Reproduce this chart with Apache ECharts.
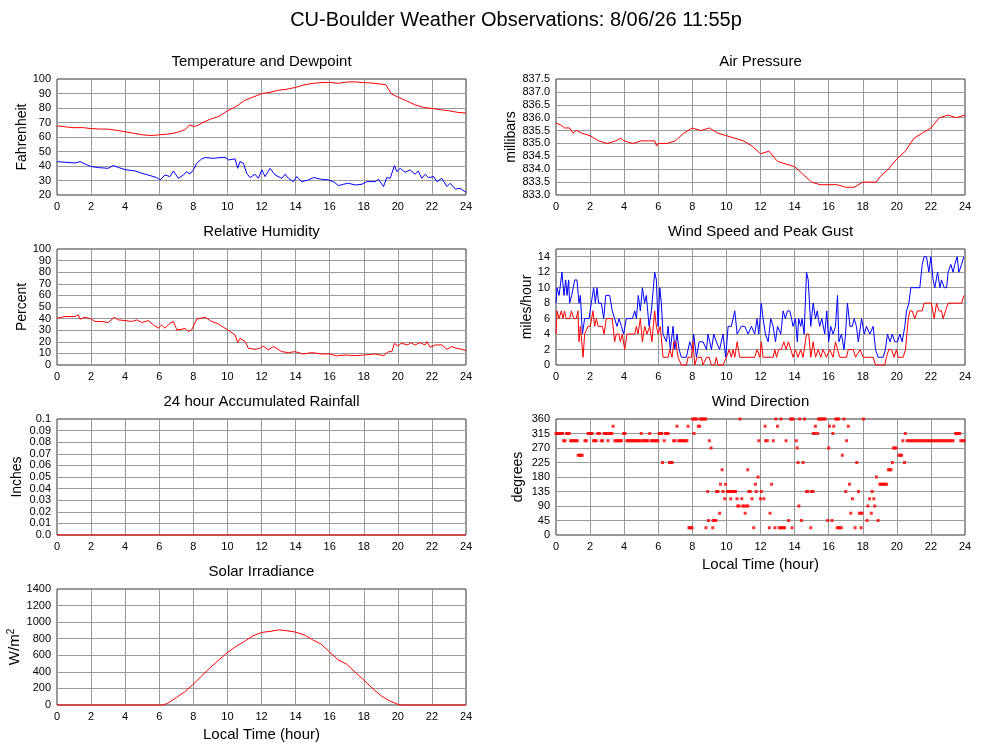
<!DOCTYPE html>
<html><head><meta charset="utf-8">
<script src="https://cdn.jsdelivr.net/npm/echarts@6/dist/echarts.min.js"></script>
<style>html,body{margin:0;padding:0;background:#fff}#c{width:1000px;height:745px}</style>
</head><body><div id="c"></div>
<script>
// ---- data: [hour, value] ----
const TEMPERATURE = [[0,67.7],[0.5,67],[1,66.4],[1.5,66.5],[2,65.8],[2.5,65.5],[3,65.4],[3.5,64.6],[4,63.6],[4.5,62.6],[5,61.5],[5.5,61],[6,61.5],[6.5,62],[7,63],[7.5,65],[7.8,68.4],[8,67.3],[8.2,67.7],[8.5,69.6],[9,72.3],[9.5,74.2],[10,78],[10.5,81],[11,85.2],[11.5,87.5],[12,89.9],[12.5,90.8],[13,92.2],[13.5,93],[14,94.2],[14.5,95.9],[15,97],[15.5,97.5],[16,97.7],[16.5,97],[17,97.9],[17.5,98],[18,97.5],[18.5,97.2],[19,96.5],[19.3,96],[19.6,90],[20,87.5],[20.5,85],[21,82.2],[21.5,80.4],[22,79.7],[22.5,78.8],[23,78.1],[23.5,77],[24,76.5]];
const DEWPOINT = [[0,43],[0.47,42.6],[1.06,42.1],[1.35,43],[1.64,41.4],[2.0,39.6],[2.43,38.9],[3.0,38.4],[3.3,40.3],[3.6,39],[4.0,37.5],[4.58,36.6],[4.97,35],[5.46,33.4],[5.85,32],[6.05,30.4],[6.34,33.8],[6.63,32.7],[6.83,36.6],[7.12,31.5],[7.42,33.8],[7.6,36.1],[7.8,34.5],[8.0,37.3],[8.2,41.9],[8.49,44.9],[8.69,45.8],[9.18,45.3],[9.57,45.8],[9.86,46],[10.06,44.2],[10.45,44.9],[10.6,38.4],[10.74,43],[10.94,41.9],[11.13,35],[11.33,32],[11.62,34.3],[11.82,31.5],[12.02,37.3],[12.21,32.7],[12.5,38.4],[12.8,33.8],[13.19,31.5],[13.39,34.3],[13.58,31.5],[13.87,29.2],[14.07,32.7],[14.36,29.2],[14.76,30.4],[15.05,32],[15.54,30.8],[15.93,30.4],[16.22,29.2],[16.52,26.5],[16.81,27.4],[17.1,28.1],[17.5,26.9],[17.89,27.4],[18.18,29.2],[18.67,29.2],[18.86,30.8],[19.16,25.8],[19.35,32],[19.55,31.5],[19.8,40.3],[19.94,36.1],[20.14,38.4],[20.43,35.7],[20.72,37.3],[21.02,34.3],[21.2,36.6],[21.4,31.5],[21.6,34.3],[21.8,32],[22.1,32.7],[22.3,29.2],[22.58,31.5],[22.88,25.8],[23.07,28.1],[23.37,24.1],[23.66,24.6],[24,21.8]];
const PRESSURE = [[0,835.8],[0.3,835.7],[0.5,835.6],[0.8,835.6],[1.0,835.4],[1.2,835.5],[1.5,835.4],[2,835.3],[2.5,835.1],[3,835.0],[3.5,835.1],[3.8,835.2],[4,835.1],[4.5,835.0],[5,835.1],[5.5,835.1],[5.8,835.1],[5.9,834.9],[6.0,835.0],[6.5,835.0],[7,835.1],[7.5,835.4],[8,835.6],[8.5,835.5],[9,835.6],[9.5,835.4],[10,835.3],[10.5,835.2],[11,835.1],[11.5,834.9],[12,834.6],[12.5,834.7],[13,834.3],[13.5,834.2],[14,834.1],[14.5,833.8],[15,833.5],[15.5,833.4],[16,833.4],[16.5,833.4],[17,833.3],[17.5,833.3],[18,833.5],[18.5,833.5],[18.8,833.5],[19,833.7],[19.5,834.0],[20,834.4],[20.5,834.7],[21,835.2],[21.5,835.4],[22,835.6],[22.5,836.0],[23,836.1],[23.5,836.0],[24,836.1]];
const HUMIDITY = [[0,40.3],[0.47,41.8],[1.06,41.8],[1.25,43.2],[1.35,39.5],[1.64,41.2],[2.0,39.8],[2.23,37.5],[2.62,37.5],[3.0,36.6],[3.37,41.2],[3.6,38.9],[4.0,38.3],[4.38,37.5],[4.68,38.9],[4.97,36.6],[5.36,38.3],[5.66,34.6],[5.95,31.7],[6.14,34.6],[6.34,31.7],[6.63,36],[6.83,37.5],[7.03,30.3],[7.32,30.8],[7.51,31.7],[7.7,28.8],[7.9,30.3],[8.2,39.5],[8.69,41.2],[9.08,37.5],[9.47,35.4],[9.86,31.7],[10.16,28.8],[10.45,25.9],[10.6,19.3],[10.74,23],[11.04,20.2],[11.23,14.4],[11.62,13.5],[11.91,14.4],[12.1,16.4],[12.4,13],[12.7,15.9],[13.19,11.5],[13.58,10.7],[13.97,11.5],[14.46,9.5],[14.95,10.7],[15.54,9.5],[16.03,9.5],[16.4,7.8],[16.9,8.6],[17.5,8.1],[18.0,8.6],[18.67,9.5],[19.16,8.1],[19.45,11.5],[19.65,11.5],[19.8,18.7],[20.0,16.4],[20.2,18.7],[20.6,17.3],[20.72,19.3],[21.02,17.3],[21.3,19.3],[21.6,17.3],[21.7,20.2],[21.9,15.3],[22.2,17.3],[22.58,17.3],[22.88,13.5],[23.17,15.9],[23.46,14.4],[23.76,13.5],[24,12.4]];
const PEAK_GUST = [[0,8],[0.06,10],[0.18,9],[0.35,12],[0.47,9],[0.57,11],[0.65,9],[0.74,11],[0.8,8],[0.92,9],[1.1,11],[1.23,11],[1.35,8],[1.43,9],[1.55,4],[1.68,6],[1.78,6],[1.94,6],[2.07,8],[2.21,10],[2.31,8],[2.41,10],[2.5,8],[2.66,8],[2.8,6],[2.92,9],[3.15,9],[3.3,7],[3.44,6],[3.58,5],[3.7,6],[3.84,5],[3.97,4],[4.13,6],[4.32,6],[4.48,6],[4.62,7],[4.72,6],[4.83,9],[4.95,7],[5.07,10],[5.2,8],[5.3,9],[5.46,5],[5.6,7],[5.69,7],[5.79,12],[5.89,11],[5.99,5],[6.09,10],[6.18,8],[6.28,4],[6.48,3],[6.58,5],[6.71,2],[6.87,5],[6.97,2],[7.1,4],[7.22,2],[7.36,1],[7.65,1],[7.85,3],[8.0,2],[8.08,4],[8.24,1],[8.4,3],[8.63,3],[8.83,2],[8.92,4],[9.12,2],[9.26,4],[9.41,3],[9.6,2],[9.8,4],[9.96,1],[10.1,5],[10.29,5],[10.49,7],[10.63,4],[10.88,5],[11.08,5],[11.27,4],[11.47,5],[11.66,4],[11.8,6],[11.9,4],[12.05,8],[12.15,6],[12.29,4],[12.45,3],[12.6,6],[12.74,5],[12.88,3],[13.0,5],[13.19,4],[13.33,7],[13.46,6],[13.58,7],[13.72,7],[13.82,6],[13.91,5],[14.05,6],[14.16,3],[14.24,6],[14.36,5],[14.44,6],[14.56,4],[14.7,12],[14.8,11],[14.95,5],[15.09,8],[15.23,6],[15.33,7],[15.47,5],[15.6,6],[15.77,4],[15.89,7],[16.0,3],[16.12,5],[16.26,4],[16.4,5],[16.52,9],[16.6,3],[16.75,4],[16.9,2],[16.99,4],[17.1,8],[17.25,5],[17.38,5],[17.5,6],[17.63,5],[17.74,3],[17.93,6],[18.09,4],[18.22,5],[18.42,4],[18.61,5],[18.75,2],[18.9,1],[19.2,1],[19.33,2],[19.45,4],[19.6,3],[19.73,4],[19.88,3],[20.04,3],[20.18,4],[20.31,3],[20.47,5],[20.57,7],[20.71,8],[20.82,10],[20.96,10],[21.06,10],[21.35,10],[21.49,13],[21.6,14],[21.74,14],[21.88,12],[22.0,14],[22.13,11],[22.23,10],[22.39,12],[22.53,10],[22.62,11],[22.78,10],[22.92,10],[23.01,12],[23.17,13],[23.3,12],[23.4,13],[23.54,14],[23.64,12],[23.8,13],[23.93,14]];
const WIND_SPEED = [[0,4],[0.06,7],[0.18,6],[0.31,7],[0.41,6],[0.5,7],[0.6,6],[0.8,6],[0.9,7],[1.04,6],[1.19,6],[1.29,7],[1.35,3],[1.43,5],[1.59,1],[1.68,4],[1.88,5],[2.01,5],[2.17,7],[2.27,5],[2.37,6],[2.47,5],[2.72,5],[2.82,4],[2.95,6],[3.3,6],[3.44,3],[3.54,4],[3.68,4],[3.78,3],[3.89,4],[4.03,2],[4.17,4],[4.62,4],[4.72,5],[4.81,4],[4.95,6],[5.07,3],[5.2,5],[5.34,4],[5.5,5],[5.63,3],[5.79,7],[5.89,5],[5.99,4],[6.12,5],[6.28,1],[6.58,1],[6.67,2],[6.81,1],[6.91,3],[7.03,3],[7.16,1],[7.36,0],[7.65,0],[7.75,1],[7.94,1],[8.04,3],[8.14,0],[8.28,1],[8.53,1],[8.63,0],[8.83,1],[8.98,1],[9.12,0],[9.31,0],[9.41,1],[9.51,0],[9.8,0],[10.0,1],[10.16,2],[10.29,1],[10.39,2],[10.49,1],[10.63,3],[10.78,1],[11.66,1],[11.8,2],[11.96,1],[12.05,3],[12.15,1],[12.74,1],[12.84,2],[12.94,1],[13.07,2],[13.22,2],[13.37,3],[13.5,2],[13.64,3],[13.78,2],[13.91,1],[14.05,2],[14.2,1],[14.36,2],[14.5,1],[14.7,4],[14.83,4],[14.95,1],[15.09,3],[15.23,1],[15.38,2],[15.54,1],[15.67,2],[15.87,1],[16.06,2],[16.26,1],[16.4,3],[16.52,2],[16.66,1],[17.05,1],[17.15,2],[17.44,2],[17.58,1],[17.84,2],[18.03,1],[18.61,1],[18.75,0],[18.9,0],[19.29,0],[19.39,1],[19.53,2],[19.69,2],[19.84,1],[19.98,2],[20.08,1],[20.37,1],[20.51,2],[20.67,6],[20.77,7],[20.9,7],[21.06,6],[21.21,7],[21.49,7],[21.6,8],[22.03,8],[22.19,6],[22.33,8],[22.47,7],[22.62,7],[22.72,6],[22.86,7],[23.01,8],[23.8,8],[23.93,9]];
const RAINFALL = [[0,0],[24,0]];
const SOLAR = [[0,0],[6.2,0],[6.5,20],[7,89],[7.5,161],[8,250],[8.5,355],[9,452],[9.5,545],[10,633],[10.5,706],[11,767],[11.5,835],[12,876],[12.5,888],[13,908],[13.5,896],[14,880],[14.5,847],[15,787],[15.5,734],[16,638],[16.5,545],[17,492],[17.5,395],[18,303],[18.5,202],[19,113],[19.5,52],[20,8],[20.2,0],[24,0]];
// wind direction: hours observed at each compass direction (degrees)
const DIR_22_5 = [7.8,7.86,7.92,7.98,8.8,9.2,11.6,12.52,12.85,13.1,13.18,13.26,13.34,13.42,13.85,14.95,16.5,16.58,16.66,16.74,17.55,17.9];
const DIR_45 = [8.95,9.22,9.3,9.38,13.65,14.4,15.95,16.2,18.25,18.9];
const DIR_67_5 = [9.6,11.1,12.56,17.3,17.8,17.88,17.96,18.5];
const DIR_90 = [10.66,10.74,10.96,11.04,11.18,11.26,14.25,18.3,18.7];
const DIR_112_5 = [9.9,10.25,10.62,10.9,11.5,12.0,12.2,17.4,18.4,18.65];
const DIR_135 = [8.9,9.42,9.5,9.8,10.05,10.13,10.21,10.29,10.37,10.45,10.53,11.32,11.4,11.75,12.05,14.7,14.78,15.0,15.08,17.0,17.75,18.55];
const DIR_157_5 = [9.65,9.95,11.7,12.65,17.22,19.0,19.08,19.16,19.24,19.32,19.4];
const DIR_180 = [11.85,18.8];
const DIR_202_5 = [9.75,11.25,19.5,19.58,19.66];
const DIR_225 = [6.25,6.66,6.74,6.82,14.2,14.5,17.65,19.74,20.45];
const DIR_247_5 = [1.3,1.38,1.46,1.54,16.8,20.12,20.2,20.28];
const DIR_270 = [9.1,14.15,16.0,19.8,19.88,19.96];
const DIR_292_5 = [0.45,0.53,0.85,0.93,1.01,1.09,1.17,1.25,1.7,1.78,2.2,2.28,2.36,2.65,2.73,3.05,3.45,3.53,3.61,3.69,3.77,3.85,4.15,4.23,4.31,4.39,4.47,4.55,4.63,4.71,4.79,4.87,4.95,5.08,5.16,5.24,5.32,5.4,5.58,5.66,5.74,5.82,5.9,5.98,6.35,6.9,6.98,7.2,7.28,7.36,7.44,7.52,7.6,7.68,9.0,11.9,12.3,12.4,12.75,13.5,14.1,17.05,20.35,20.6,20.7,20.8,20.9,21.0,21.1,21.2,21.3,21.4,21.5,21.6,21.7,21.8,21.9,22.0,22.1,22.2,22.3,22.4,22.5,22.6,22.7,22.8,22.9,23.0,23.1,23.2,23.3,23.75,23.85,23.95];
const DIR_315 = [0,0.08,0.16,0.24,0.32,0.38,0.62,0.7,0.78,1.88,1.96,2.04,2.12,2.45,2.55,2.82,2.9,2.98,3.12,3.2,3.28,3.97,4.05,5.0,5.5,6.05,6.12,6.2,6.42,6.5,6.58,8.1,15.1,15.18,15.35,16.25,20.5,23.45,23.53,23.61,23.69];
const DIR_337_5 = [3.35,7.1,7.75,8.35,8.43,12.27,13.0,15.22,16.05,16.3,17.15];
const DIR_360 = [8.02,8.1,8.18,8.26,8.47,8.55,8.63,8.71,8.79,10.8,12.9,13.2,13.76,13.84,13.92,14.3,14.58,15.4,15.48,15.56,15.64,15.72,15.8,16.42,16.5,16.58,16.9,18.04];

const WDIR_GROUPS = [[22.5,DIR_22_5],[45,DIR_45],[67.5,DIR_67_5],[90,DIR_90],[112.5,DIR_112_5],[135,DIR_135],[157.5,DIR_157_5],[180,DIR_180],[202.5,DIR_202_5],[225,DIR_225],[247.5,DIR_247_5],[270,DIR_270],[292.5,DIR_292_5],[315,DIR_315],[337.5,DIR_337_5],[360,DIR_360]];
const WIND_DIR = WDIR_GROUPS.flatMap(([deg, hrs]) => hrs.map(h => [h, deg]));

const MAIN_TITLE = 'CU-Boulder Weather Observations: 8/06/26 11:55p';
const PANEL_TITLES = ['Temperature and Dewpoint','Air Pressure','Relative Humidity','Wind Speed and Peak Gust','24 hour Accumulated Rainfall','Wind Direction','Solar Irradiance'];

// ---- layout ----
const FONT = '"Liberation Sans", Arial, Helvetica, sans-serif';
const POS = [[57,79],[556,79],[57,249],[556,249],[57,419],[556,419],[57,589]];
const W = 409, H = 116;

const grids = POS.map(([l,t]) => ({left:l, top:t, width:W, height:H, show:true, borderColor:'#333', borderWidth:1, backgroundColor:'#fff'}));

const splitStyle = {show:true, showMinLine:false, showMaxLine:false, lineStyle:{color:'#9a9a9a', width:1}};
const xAxes = POS.map((p,i) => ({
  type:'value', gridIndex:i, min:0, max:24, interval:2,
  axisLine:{show:false}, axisTick:{show:false},
  splitLine:splitStyle,
  axisLabel:{color:'#000', fontSize:11, margin:6, fontFamily:FONT},
  name:(i===5||i===6)?'Local Time (hour)':'', nameLocation:'middle', nameGap:22,
  nameTextStyle:{color:'#000', fontSize:15, fontFamily:FONT}
}));

const yCfg = [
  {min:20,max:100,interval:10,name:'Fahrenheit',gap:28},
  {min:833,max:837.5,interval:0.5,name:'millibars',gap:37,fmt:v=>v.toFixed(1)},
  {min:0,max:100,interval:10,name:'Percent',gap:28},
  {min:0,max:15,interval:2,name:'miles/hour',gap:22,hideMax:true},
  {min:0,max:0.1,interval:0.01,name:'Inches',gap:33,fmt:v=>v===0?'0.0':String(parseFloat(v.toFixed(2)))},
  {min:0,max:360,interval:45,name:'degrees',gap:31},
  {min:0,max:1400,interval:200,name:'{a|W/m}{s|2}',gap:33,fmt:v=>String(v)}
];
const yAxes = yCfg.map((c,i) => ({
  type:'value', gridIndex:i, min:c.min, max:c.max, interval:c.interval,
  axisLine:{show:false}, axisTick:{show:false},
  splitLine:splitStyle,
  axisLabel:{color:'#000', fontSize:11, margin:6, fontFamily:FONT, showMaxLabel: c.hideMax ? false : null, formatter:c.fmt||null},
  name:c.name, nameLocation:'middle', nameGap:c.gap,
  nameTextStyle:{color:'#000', fontSize:14, fontFamily:FONT,
    rich:{a:{fontSize:15, fontFamily:FONT, color:'#000'}, s:{fontSize:10, fontFamily:FONT, color:'#000', verticalAlign:'top', lineHeight:18}}}
}));

const titles = [{text:MAIN_TITLE, left:516, top:10, textAlign:'center', padding:0,
  textStyle:{fontSize:20, fontWeight:'normal', color:'#000', fontFamily:FONT}}]
  .concat(PANEL_TITLES.map((t,i) => ({text:t, left:POS[i][0]+W/2, top:POS[i][1]-25, textAlign:'center', padding:0,
  textStyle:{fontSize:15, fontWeight:'normal', color:'#000', fontFamily:FONT}})));

function line(data, idx, color){
  return {type:'line', data, xAxisIndex:idx, yAxisIndex:idx, showSymbol:false, symbol:'none', clip:false,
    lineStyle:{color, width:1}, itemStyle:{color}, animation:false};
}

const option = {
  animation:false,
  backgroundColor:'#fff',
  textStyle:{fontFamily:FONT},
  title:titles,
  grid:grids,
  xAxis:xAxes,
  yAxis:yAxes,
  series:[
    line(TEMPERATURE,0,'#ff0000'),
    line(DEWPOINT,0,'#0000ff'),
    line(PRESSURE,1,'#ff0000'),
    line(HUMIDITY,2,'#ff0000'),
    line(PEAK_GUST,3,'#0000ff'),
    line(WIND_SPEED,3,'#ff0000'),
    line(RAINFALL,4,'#ff0000'),
    {type:'scatter', data:WIND_DIR, xAxisIndex:5, yAxisIndex:5, symbol:'rect', symbolSize:[3,3], clip:false,
      itemStyle:{color:'#ff0000'}, animation:false},
    line(SOLAR,6,'#ff0000')
  ]
};
const chart = echarts.init(document.getElementById('c'));
chart.setOption(option);
</script></body></html>
